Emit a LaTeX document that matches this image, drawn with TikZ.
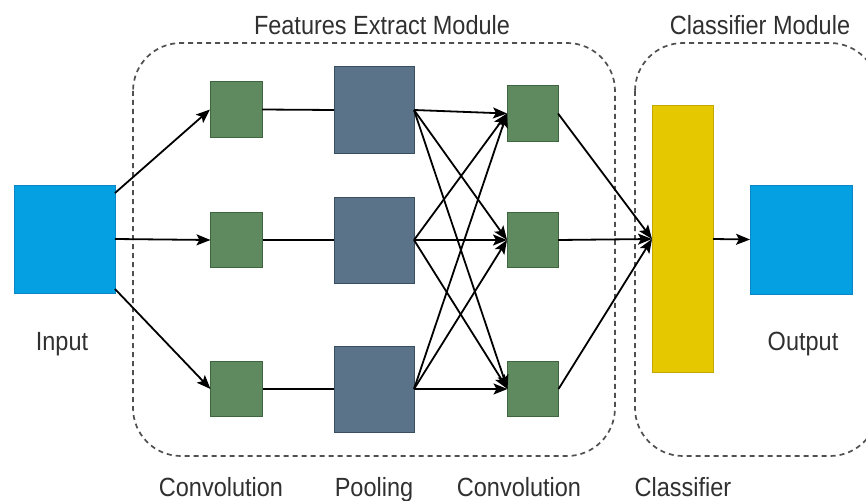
\documentclass[tikz,border=0pt]{standalone}
\usepackage{fontspec}
\setmainfont{Liberation Sans}
\usetikzlibrary{arrows.meta,calc}
\definecolor{inblue}{HTML}{05A0E2}
\definecolor{inbluedk}{HTML}{0A86C6}
\definecolor{convgreen}{HTML}{5F8A5F}
\definecolor{convgreendk}{HTML}{3E663F}
\definecolor{poolgray}{HTML}{5B7389}
\definecolor{poolgraydk}{HTML}{3A4E62}
\definecolor{clsyellow}{HTML}{E6C800}
\definecolor{clsyellowdk}{HTML}{C4A800}
\definecolor{txtgray}{HTML}{303030}
\definecolor{dashgray}{HTML}{505050}
\begin{document}
\begin{tikzpicture}[x=1pt,y=-1pt,
  box/.style={draw, line width=1pt, inner sep=0pt, outer sep=0pt},
  inbox/.style={box, fill=inblue, draw=inbluedk, minimum width=101pt, minimum height=108pt},
  convbox/.style={box, fill=convgreen, draw=convgreendk, minimum width=52pt, minimum height=55pt},
  poolbox/.style={box, fill=poolgray, draw=poolgraydk, minimum width=80pt, minimum height=86pt},
  clsbox/.style={box, fill=clsyellow, draw=clsyellowdk, minimum width=61pt, minimum height=266pt},
  modbox/.style={draw=dashgray, line width=1.7pt, dash pattern=on 5pt off 4pt, rounded corners=48pt},
  lbl/.style={text=txtgray, font=\fontsize{23.5}{28}\selectfont, inner sep=0pt, anchor=base},
  arr/.style={line width=1.8pt, -{Stealth[length=14pt,width=11pt,inset=3pt]}},
  ln/.style={line width=1.8pt}
]
\useasboundingbox (0,0) rectangle (866,500);

% module frames
\draw[modbox] (133,43) rectangle (615,456);
\draw[modbox] (635,43) rectangle (878,456);

% nodes
\node[inbox] (in) at (64.5,239) {};
\node[convbox] (c1a) at (236,109.5) {};
\node[convbox] (c1b) at (236.5,240) {};
\node[convbox] (c1c) at (236.5,389) {};
\node[poolbox] (pa) at (374,110) {};
\node[poolbox] (pb) at (374,240) {};
\node[poolbox] (pc) at (374,389) {};
\node[convbox, minimum width=51pt] (c2a) at (532.5,113.5) {};
\node[convbox, minimum width=51pt] (c2b) at (532.5,240) {};
\node[convbox, minimum width=51pt] (c2c) at (533,389) {};
\node[clsbox] (cls) at (682.5,239) {};
\node[inbox, minimum width=102pt, minimum height=109pt] (out) at (801,239.5) {};

% labels
\node[lbl] (tFeat) at (382,35) {\scalebox{1}[1.12]{Features Extract Module}};
\node[lbl] (tCls) at (760,35) {\scalebox{1}[1.12]{Classifier Module}};
\node[lbl] (tIn) at (62,350) {\scalebox{1}[1.12]{Input}};
\node[lbl] (tOut) at (803,350) {\scalebox{1}[1.12]{Output}};
\node[lbl] (bConv1) at (221,496) {\scalebox{1}[1.12]{Convolution}};
\node[lbl] (bPool) at (374,496) {\scalebox{1}[1.12]{Pooling}};
\node[lbl] (bConv2) at (519,496) {\scalebox{1}[1.12]{Convolution}};
\node[lbl] (bCls) at (683,496) {\scalebox{1}[1.12]{Classifier}};

% connectors
\draw[arr] ($(in.north east)+(0,8)$) -- (c1a.west);
\draw[arr] (in.east) -- (c1b.west);
\draw[arr] ($(in.south east)+(0,-4)$) -- (c1c.west);

\draw[ln] (c1a.east) -- (pa.west);
\draw[ln] (c1b.east) -- (pb.west);
\draw[ln] (c1c.east) -- (pc.west);

\foreach \p in {pa,pb,pc}{
  \foreach \c in {c2a,c2b,c2c}{
    \draw[arr] (\p.east) -- (\c.west);
  }
}

\draw[arr] (c2a.east) -- (cls.west);
\draw[arr] (c2b.east) -- (cls.west);
\draw[arr] (c2c.east) -- (cls.west);

\draw[arr] (cls.east) -- (out.west);
\end{tikzpicture}
\end{document}
